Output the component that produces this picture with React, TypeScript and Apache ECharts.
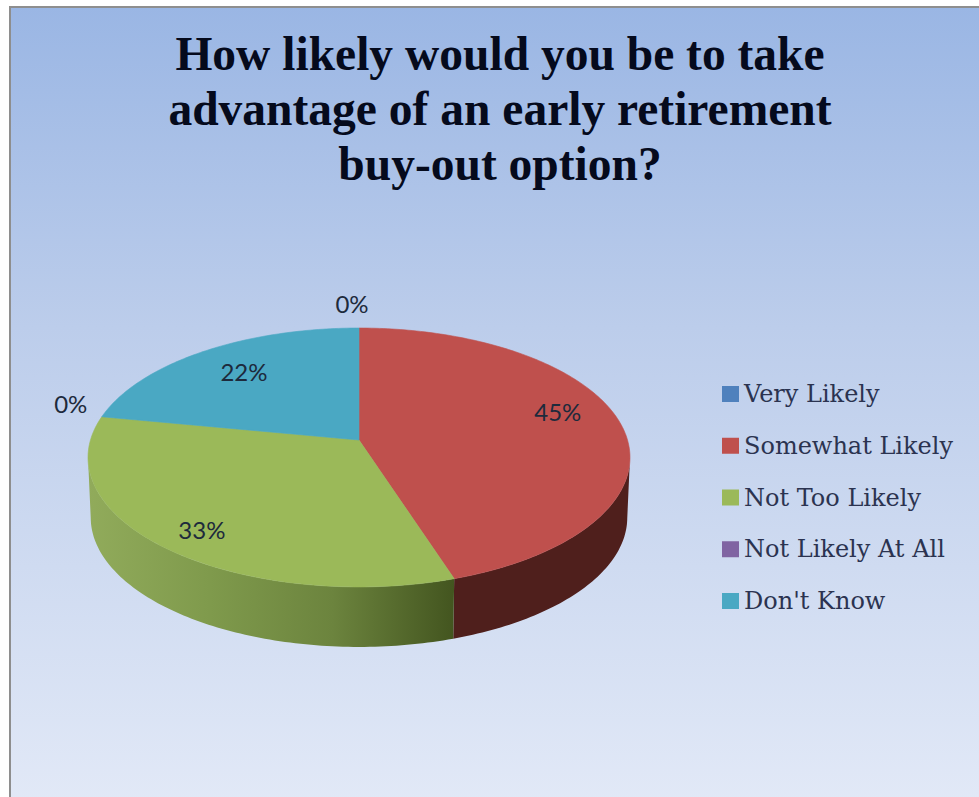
import React, { useEffect, useRef } from "react";
import * as echarts from "echarts";

const categories = ["Very Likely", "Somewhat Likely", "Not Too Likely", "Not Likely At All", "Don't Know"];
const shares = [0, 45, 33, 0, 22];
const sliceColors = ["#4f81bd", "#bf504d", "#9bb959", "#8064a2", "#4aa8c3"];
const wallStops = [
  ["#3c6190", "#2a4566"],
  ["#4f1f1c", "#4f1f1c"],
  ["#91ab5b", "#7f9a4c", "#6c843e", "#43551f"],
  ["#604b7a", "#443556"],
  ["#38809a", "#28596b"],
];
const titleLines = ["How likely would you be to take", "advantage of an early retirement", "buy-out option?"];

// Perspective projection of the pie's circular top face.
const CX = 359;
const CY = 440;
const A = 268.5;
const B = 127.1;
const K = 0.135;
const DEPTH = 60;
const BOTTOM_SCALE = 0.99;
const FRONT_FROM = 98;
const FRONT_TO = 262;

const project = (deg: number, r = 1): [number, number] => {
  const t = (deg * Math.PI) / 180;
  const u = Math.sin(t) * r;
  const v = Math.cos(t) * r;
  const d = 1 + K * v;
  return [CX + (A * u) / d, CY - (B * v) / d];
};

const rim = (from: number, to: number): [number, number][] => {
  const pts: [number, number][] = [];
  const n = Math.max(1, Math.ceil(to - from));
  for (let i = 0; i <= n; i++) pts.push(project(from + ((to - from) * i) / n));
  return pts;
};

// label placement: radius on the projected face, then a small nudge
const labelRadius = [1.1, 0.75, 0.75, 1.1, 0.75];
const labelNudgeX = [-7, 3, -13, -6, 4];
const labelNudgeY = [-15, -14, 12, -11, 0];

const total = shares.reduce((a, b) => a + b, 0);
const startDeg = (idx: number) =>
  (shares.slice(0, idx).reduce((a, b) => a + b, 0) / total) * 360;

const renderSlice = (params: any, api: any) => {
  const idx = params.seriesIndex;
  const value = api.value(0);
  const from = startDeg(idx);
  const to = from + (value / total) * 360;
  const children: any[] = [];
  if (value > 0) {
    const wFrom = Math.max(from, FRONT_FROM);
    const wTo = Math.min(to, FRONT_TO);
    if (wTo > wFrom) {
      const top = rim(wFrom, wTo);
      const bottom = top
        .map(([x, y]) => [CX + (x - CX) * BOTTOM_SCALE, y + DEPTH] as [number, number])
        .reverse();
      const stops = wallStops[idx];
      const fill = new echarts.graphic.LinearGradient(
        0, 0, 1, 0,
        stops.map((color, i) => ({ offset: i / (stops.length - 1), color }))
      );
      children.push({
        type: "polygon",
        shape: { points: [...top, ...bottom] },
        style: { fill, stroke: null },
      });
    }
    children.push({
      type: "polygon",
      shape: { points: [[CX, CY], ...rim(from, to)] },
      style: { fill: sliceColors[idx], stroke: sliceColors[idx], lineWidth: 0.6 },
    });
  }
  const [lx, ly] = project((from + to) / 2, labelRadius[idx]);
  children.push({
    type: "text",
    z2: 50,
    style: {
      text: `${value}%`,
      x: lx + labelNudgeX[idx],
      y: ly + labelNudgeY[idx],
      fill: "#1d2a3c",
      fontFamily: "Lato",
      fontSize: 24,
      align: "center",
      verticalAlign: "middle",
    },
  });
  return { type: "group", children };
};

export default function App() {
  const ref = useRef<HTMLDivElement>(null);
  useEffect(() => {
    const chart = echarts.init(ref.current!, null, { renderer: "svg" });
    chart.setOption({
      animation: false,
      backgroundColor: "#ffffff",
      title: {
        text: titleLines.join("\n"),
        left: 495,
        top: 21,
        textAlign: "center",
        textStyle: {
          fontFamily: "Liberation Serif",
          fontWeight: "bold",
          fontSize: 47.5,
          lineHeight: 55,
          color: "#050a1c",
        },
      },
      legend: {
        orient: "vertical",
        left: 717,
        top: 377,
        itemWidth: 17,
        itemHeight: 16,
        itemGap: 27.75,
        icon: "rect",
        data: categories,
        textStyle: {
          fontFamily: "DejaVu Serif",
          fontSize: 24,
          lineHeight: 16,
          color: "#2b3350",
        },
      },
      graphic: [
        {
          type: "rect",
          z: -10,
          silent: true,
          shape: { x: 10, y: 7, width: 980, height: 800 },
          style: {
            fill: new echarts.graphic.LinearGradient(0, 0, 0, 1, [
              { offset: 0, color: "#9ab6e4" },
              { offset: 0.4, color: "#bccdeb" },
              { offset: 1, color: "#e2e9f7" },
            ]),
            stroke: "#8e8e8e",
            lineWidth: 2,
          },
        },
      ],
      series: categories.map((name, i) => ({
        type: "custom",
        name,
        coordinateSystem: "none",
        itemStyle: { color: sliceColors[i] },
        renderItem: renderSlice,
        data: [[shares[i]]],
      })),
    });
    return () => chart.dispose();
  }, []);
  return (
    <div
      ref={ref}
      style={{ position: "fixed", left: 0, top: 0, width: 979, height: 797 }}
    />
  );
}
